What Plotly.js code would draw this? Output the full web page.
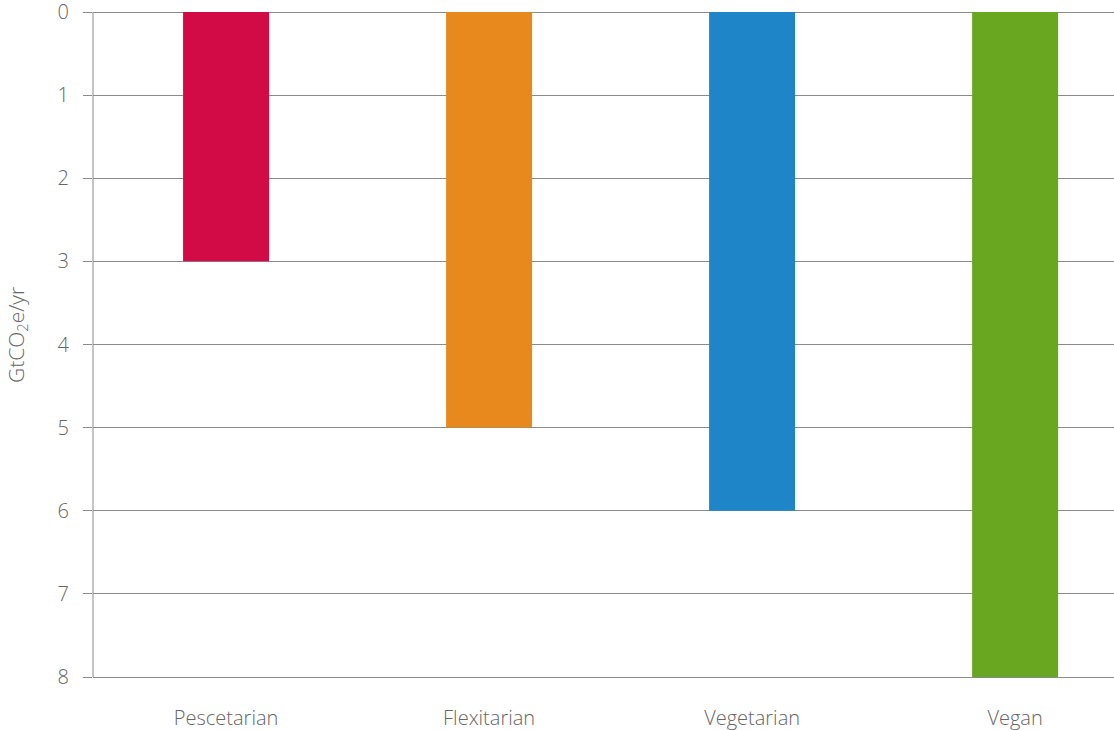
<!DOCTYPE html>
<html><head><meta charset="utf-8">
<script src="https://cdn.plot.ly/plotly-3.0.1.min.js"></script>
<style>html,body{margin:0;padding:0;background:#fff}#chart{width:1114px;height:730px}</style>
</head><body><div id="chart"></div>
<script>
const categories = ["Pescetarian", "Flexitarian", "Vegetarian", "Vegan"];
const values = [3, 5, 6, 8];
const colors = ["#D20A46", "#E8891E", "#1E86C8", "#6AA720"];
const yTicks = [0, 1, 2, 3, 4, 5, 6, 7, 8];
const yTitle = "GtCO<sub>2</sub>e/yr";

const font = {family: "Open Sans, Lato, sans-serif", size: 20, color: "#666666", weight: 300};

Plotly.newPlot("chart", [{
  type: "bar",
  x: [0, 1, 2, 3],
  y: values,
  width: 0.327,
  marker: {color: colors},
  hoverinfo: "skip"
}], {
  width: 1114, height: 730,
  margin: {l: 93, r: 0, t: 8, b: 50},
  paper_bgcolor: "#fff", plot_bgcolor: "#fff",
  font: font,
  showlegend: false,
  xaxis: {
    range: [-0.506, 3.376],
    tickmode: "array", tickvals: [0, 1, 2, 3], ticktext: categories,
    showgrid: false, zeroline: false, showline: false,
    ticks: "", ticklabelstandoff: 24, ticklabeloverflow: "allow",
    tickfont: font, fixedrange: true
  },
  yaxis: {
    range: [8.0361, -0.0481],
    tickmode: "array", tickvals: yTicks,
    showgrid: true, gridcolor: "#8a8a8a", gridwidth: 1,
    zeroline: false,
    showline: false,
    ticks: "outside", ticklen: 9, tickcolor: "#8a8a8a", tickwidth: 1,
    ticklabelstandoff: 10, ticklabeloverflow: "allow",
    tickfont: font,
    fixedrange: true
  },
  annotations: [{
    text: yTitle, textangle: -90, showarrow: false,
    xref: "paper", yref: "paper", x: -0.0744, y: 0.5134,
    xanchor: "center", yanchor: "middle",
    font: {family: "Open Sans, Lato, sans-serif", size: 21, color: "#666666", weight: 300}
  }],
  shapes: [{
    type: "line", xref: "paper", yref: "y",
    x0: 0, x1: 0, y0: 0, y1: 8,
    line: {color: "#8a8a8a", width: 1}
  }]
}, {displayModeBar: false, staticPlot: true});
</script></body></html>
